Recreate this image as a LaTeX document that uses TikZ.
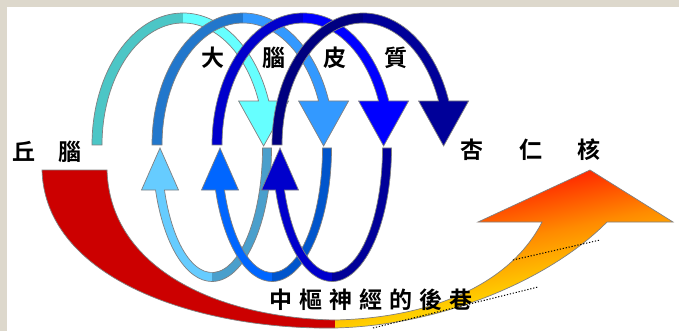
\documentclass[tikz,border=0pt]{standalone}
\usepackage{fontspec}
\newfontfamily\cjk{Noto Sans CJK TC}[BoldFont={Noto Sans CJK TC Bold}]
\definecolor{frame}{HTML}{DDD8CC}
\definecolor{teal1}{HTML}{4CC6C6}
\definecolor{cyan1}{HTML}{66FFFF}
\definecolor{mid1}{HTML}{2277CC}
\definecolor{sky1}{HTML}{3399FF}
\definecolor{deep1}{HTML}{0000CC}
\definecolor{blue1}{HTML}{0000FF}
\definecolor{navy1}{HTML}{000080}
\definecolor{navy2}{HTML}{000099}
\definecolor{light1}{HTML}{66CCFF}
\definecolor{steel1}{HTML}{4A9FCC}
\definecolor{bright1}{HTML}{0066FF}
\definecolor{cobalt1}{HTML}{0055CC}
\definecolor{red1}{HTML}{CC0000}
\definecolor{flame1}{HTML}{FF1A00}
\definecolor{flame2}{HTML}{FF8A00}
\definecolor{flame3}{HTML}{FFD000}
\usetikzlibrary{positioning}
\pgfdeclareverticalshading{flameshade}{100bp}{color(0bp)=(flame3); color(38bp)=(flame3);
  color(52bp)=(flame2); color(68bp)=(flame1); color(100bp)=(flame1)}
\tikzset{
  edge/.style={draw=gray, line width=0.7pt},
  lbl/.style={font=\cjk\bfseries\fontsize{23}{23}\selectfont, inner sep=0pt}
}
\begin{document}
\begin{tikzpicture}[x=1pt,y=-1pt]
  \useasboundingbox (0,0) rectangle (679,331);
  \fill[frame] (0,0) rectangle (679,331);
  \fill[white] (7,7) rectangle (679,331);

  % big red / orange sweep
  \fill[red1] (42,170) -- (107,170) .. controls (110,270) and (220,318) .. (335,320)
    -- (335,328) .. controls (200,330) and (45,280) .. (42,170) -- cycle;
  \shade[shading=flameshade, shading angle=12]
    (335,320) .. controls (430,318) and (510,285) .. (542,222) -- (478,222) -- (590,170)
    -- (673,222) -- (607,222) .. controls (555,275) and (450,325) .. (335,328) -- cycle;
  \draw[edge] (42,170) -- (107,170) .. controls (110,270) and (220,318) .. (335,320)
    .. controls (430,318) and (510,285) .. (542,222) -- (478,222) -- (590,170)
    -- (673,222) -- (607,222) .. controls (555,275) and (450,325) .. (335,328)
    .. controls (200,330) and (45,280) .. (42,170) -- cycle;
  \draw[black, line width=1pt, dash pattern=on 1.2pt off 1.8pt] (373,328) -- (538,287);
  \draw[black, line width=1pt, dash pattern=on 1.2pt off 1.8pt] (513,260) -- (600,240);

  % lower loops
  \foreach \cx/\cl/\cr in {212/light1/steel1, 272/bright1/cobalt1, 332/deep1/navy2} {
    \begin{scope}[shift={(\cx,148)}]
      \fill[\cl] (90:59.5 and 133.5) arc[start angle=90, end angle=161.66, x radius=59.5, y radius=133.5]
        -- (-70.5,42) -- (-52,0) -- (-33.5,42)
        -- (160.28:50.5 and 124.5) arc[start angle=160.28, end angle=90, x radius=50.5, y radius=124.5] -- cycle;
      \fill[\cr] (0:59.5 and 133.5) arc[start angle=0, end angle=90, x radius=59.5, y radius=133.5]
        -- (90:50.5 and 124.5) arc[start angle=90, end angle=0, x radius=50.5, y radius=124.5] -- cycle;
      \draw[edge] (0:59.5 and 133.5) arc[start angle=0, end angle=161.66, x radius=59.5, y radius=133.5]
        -- (-70.5,42) -- (-52,0) -- (-33.5,42)
        -- (160.28:50.5 and 124.5) arc[start angle=160.28, end angle=0, x radius=50.5, y radius=124.5] -- cycle;
    \end{scope}
  }

  % upper loops
  \foreach \cx/\cl/\cr in {183/teal1/cyan1, 243/mid1/sky1, 303/deep1/blue1, 363/navy1/navy2} {
    \begin{scope}[shift={(\cx,145)}]
      \fill[\cl] (180:91 and 132) arc[start angle=180, end angle=270, x radius=91, y radius=132]
        -- (270:81 and 122) arc[start angle=270, end angle=180, x radius=81, y radius=122] -- cycle;
      \fill[\cr] (270:91 and 132) arc[start angle=270, end angle=340.5, x radius=91, y radius=132]
        -- (105.6,-44) -- (80.6,1) -- (55.6,-44)
        -- (338.9:81 and 122) arc[start angle=338.9, end angle=270, x radius=81, y radius=122] -- cycle;
      \draw[edge] (180:91 and 132) arc[start angle=180, end angle=340.5, x radius=91, y radius=132]
        -- (105.6,-44) -- (80.6,1) -- (55.6,-44)
        -- (338.9:81 and 122) arc[start angle=338.9, end angle=180, x radius=81, y radius=122] -- cycle;
    \end{scope}
  }

  \node[lbl] (thalamus) at (47,152) {丘\hspace{23pt}腦};
  \node[lbl] (cortex) at (304.5,58) {大\hspace{38pt}腦\hspace{38pt}皮\hspace{38pt}質};
  \node[lbl] (amygdala) at (530.5,150) {杏\hspace{36pt}仁\hspace{36pt}核};
  \node[lbl] (backlane) at (371,300) {中\hspace{7pt}樞\hspace{7pt}神\hspace{7pt}經\hspace{7pt}的\hspace{7pt}後\hspace{7pt}巷};
\end{tikzpicture}
\end{document}
